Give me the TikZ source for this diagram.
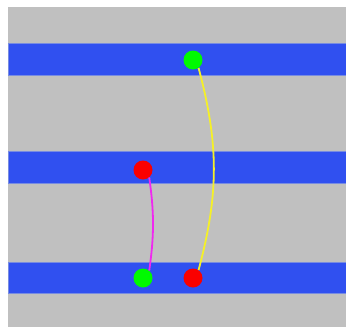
\documentclass[tikz,border=0pt]{standalone}
\usepackage{tikz}
\usetikzlibrary{positioning}
\definecolor{bggray}{RGB}{192,192,192}
\definecolor{laneblue}{RGB}{48,80,240}
\definecolor{laneedge}{RGB}{120,140,225}
\definecolor{dotgreen}{RGB}{0,250,0}
\definecolor{dotred}{RGB}{250,0,0}
\definecolor{linkyellow}{RGB}{245,240,40}
\definecolor{linkpink}{RGB}{240,40,240}

\begin{document}
\begin{tikzpicture}[x=1pt,y=-1pt,
lane/.style={fill=laneblue,draw=laneedge,line width=1pt},
pin/.style={circle,inner sep=0pt,minimum size=19pt},
gpin/.style={pin,fill=dotgreen},
rpin/.style={pin,fill=dotred},
link/.style={line width=1.8pt}]
\useasboundingbox (0,0) rectangle (346,327);
\fill[bggray] (8,7) rectangle (346,327);
% three lanes
\draw[lane] (8,43) rectangle (346,75);
\draw[lane] (8,151) rectangle (346,183);
\draw[lane] (8,262) rectangle (346,293);
% pins
\node[gpin] (topgreen) at (193,60) {};
\node[rpin] (midred) at (143,170) {};
\node[gpin] (lowgreen) at (143,278) {};
\node[rpin] (lowred) at (193,278) {};
% links
\draw[link,linkyellow] (topgreen.-55) to[out=-75,in=75] (lowred.55);
\draw[link,linkpink] (midred.-50) to[out=-82,in=82] (lowgreen.50);
\end{tikzpicture}
\end{document}
